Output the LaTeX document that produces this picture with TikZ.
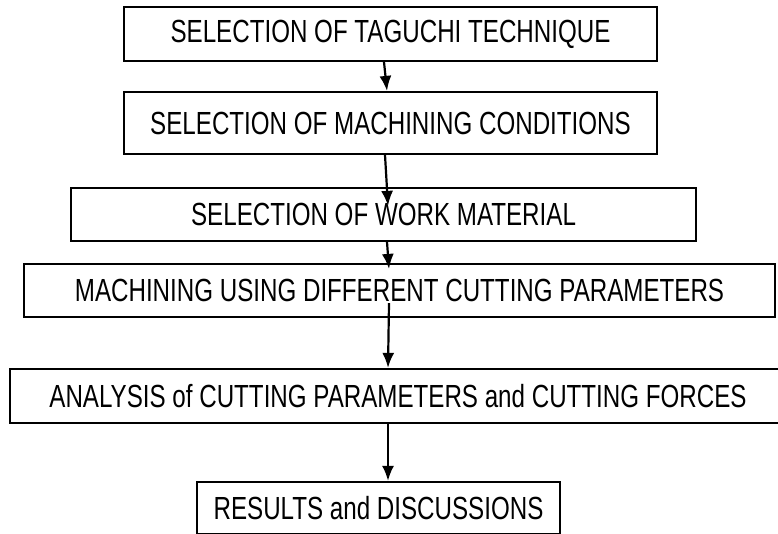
\documentclass[tikz,border=0pt]{standalone}
\usepackage{fontspec}
\setmainfont{Liberation Sans}[FakeStretch=0.755]
\usetikzlibrary{arrows.meta}
\begin{document}
\begin{tikzpicture}[x=1pt,y=-1pt,->,>={Latex[length=15pt,width=12pt]},line width=2.2pt,
  stage/.style={draw,rectangle,inner sep=0pt,font=\fontsize{32}{34}\selectfont}]
\useasboundingbox (0,0) rectangle (778,533);
\clip (0,0) rectangle (778,533);

\node (taguchi) [stage,minimum width=533pt,minimum height=54pt] at (390.5,34) {SELECTION OF TAGUCHI TECHNIQUE};
\node (conditions) [stage,minimum width=533pt,minimum height=62pt] at (390.5,123) {SELECTION OF MACHINING CONDITIONS};
\node (material) [stage,minimum width=625pt,minimum height=53pt] at (383.5,214.5) {SELECTION OF WORK MATERIAL};
\node (machining) [stage,minimum width=751pt,minimum height=53pt] at (399.5,290.5) {MACHINING USING DIFFERENT CUTTING PARAMETERS};
\node (analysis) [stage,minimum width=776pt,minimum height=54pt] at (398,396) {ANALYSIS of CUTTING PARAMETERS and CUTTING FORCES};
\node (results) [stage,minimum width=363pt,minimum height=52pt] at (378.5,508) {RESULTS and DISCUSSIONS};

\path [->]
    ([xshift=-6.5pt]taguchi.south) edge ([xshift=-3.5pt]conditions.north)
    ([xshift=-5.5pt]conditions.south) edge ([xshift=4.5pt,yshift=-19pt]material.north)
    ([xshift=3.5pt]material.south) edge ([xshift=-10.5pt,yshift=-6pt]machining.north)
    ([xshift=-10.5pt,yshift=15pt]machining.south) edge ([xshift=-10pt]analysis.north)
    ([xshift=-10pt]analysis.south) edge ([xshift=9.5pt]results.north)
;

\end{tikzpicture}
\end{document}
